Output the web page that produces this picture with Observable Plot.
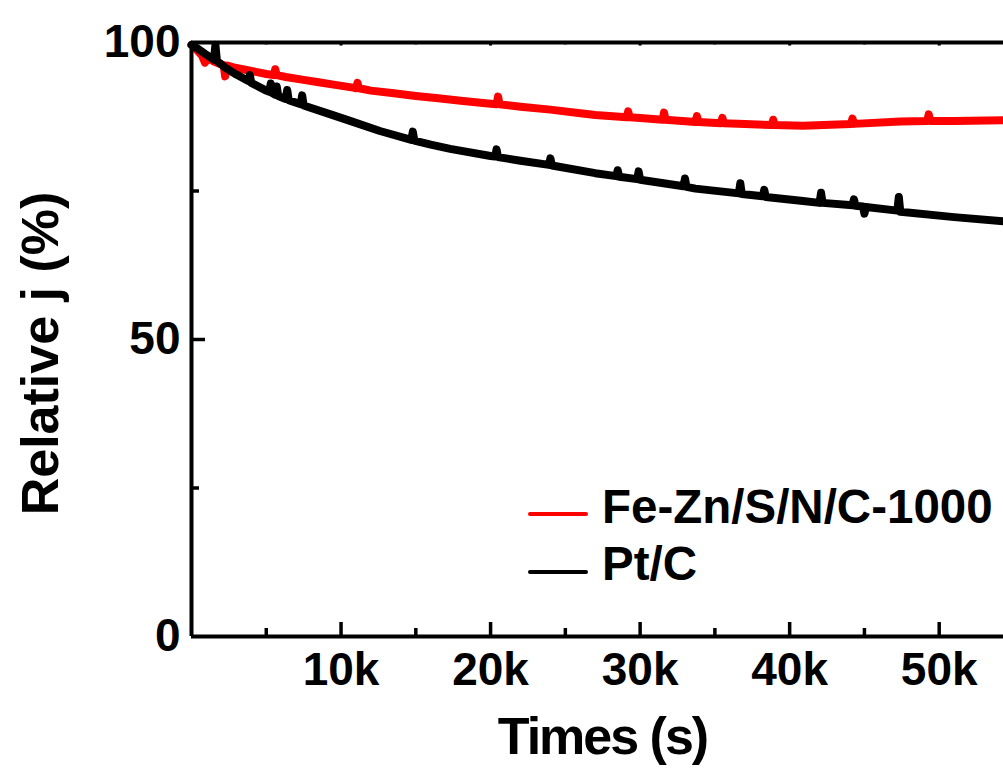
<!DOCTYPE html>
<html>
<head>
<meta charset="utf-8">
<script src="https://cdn.jsdelivr.net/npm/d3@7"></script>
<script src="https://cdn.jsdelivr.net/npm/@observablehq/plot@0.6"></script>
<style>
  html, body { margin: 0; padding: 0; background: #fff; }
  #wrap { position: relative; width: 1003px; height: 773px; overflow: hidden; font-family: "Liberation Sans", Arial, sans-serif; font-weight: bold; }
  .leg { position: absolute; font-size: 47.5px; line-height: 47.5px; color: #000; white-space: nowrap; }
  .sw { position: absolute; height: 4px; border-radius: 2px; }
</style>
</head>
<body>
<div id="wrap"></div>
<script>
// ---- data (time in s, relative current density in %) ----
const seriesNames = ["Fe-Zn/S/N/C-1000", "Pt/C"];
const seriesColors = ["#ff0000", "#000000"];

const redT = [0, 300, 700, 900, 1100, 1500, 2000, 2150, 2250, 2400, 3000, 4000, 5000, 5500, 5600, 5700, 6300, 7500, 8500, 9500, 10800, 11000, 11100, 11200, 12000, 13400, 15000, 16500, 18000, 20000, 20400, 20500, 20600, 22000, 24000, 26000, 27000, 29100, 29200, 29300, 30000, 31500, 31600, 31700, 33700, 33800, 33900, 35400, 35500, 35600, 37000, 38800, 38900, 39000, 40900, 44100, 44200, 44300, 47400, 49200, 49300, 49400, 51000, 54300];
const redV = [99.6, 98.9, 97.8, 96.6, 97.4, 96.8, 96.3, 96.2, 94.3, 96.1, 95.7, 95.2, 94.7, 94.5, 95.5, 94.5, 94.2, 93.7, 93.3, 92.9, 92.4, 92.3, 93.2, 92.3, 91.9, 91.5, 91.0, 90.6, 90.2, 89.7, 89.6, 90.9, 89.6, 89.2, 88.7, 88.1, 87.8, 87.4, 88.4, 87.4, 87.3, 87.0, 88.2, 87.0, 86.6, 87.6, 86.6, 86.4, 87.3, 86.4, 86.3, 86.1, 87.0, 86.1, 86.0, 86.3, 87.2, 86.3, 86.7, 86.8, 87.9, 86.8, 86.8, 86.9];

const blackT = [0, 400, 900, 1500, 1600, 1700, 2300, 3000, 3800, 3900, 4000, 5000, 5200, 5300, 5400, 5600, 5700, 5800, 6300, 6400, 6500, 7300, 7400, 7500, 9300, 10600, 12600, 14700, 14800, 14900, 16000, 17300, 20000, 20300, 20400, 20500, 22000, 23900, 24000, 24100, 27000, 28400, 28500, 28600, 29800, 29900, 30000, 32900, 33000, 33100, 33700, 36600, 36700, 36800, 38200, 38300, 38400, 40900, 42000, 42100, 42200, 44200, 44300, 44400, 44900, 45000, 45100, 47200, 47300, 47400, 51000, 54300];
const blackV = [99.6, 99.0, 98.1, 97.1, 99.6, 96.9, 95.7, 94.6, 93.5, 94.5, 93.2, 91.9, 91.7, 93.1, 91.5, 91.2, 92.6, 91.0, 90.5, 92.0, 90.3, 89.6, 91.1, 89.4, 87.9, 86.8, 85.1, 83.6, 85.0, 83.5, 82.8, 82.1, 80.9, 80.8, 82.0, 80.7, 80.1, 79.4, 80.5, 79.3, 78.0, 77.5, 78.5, 77.4, 77.0, 78.3, 76.9, 75.8, 77.1, 75.7, 75.4, 74.6, 76.3, 74.5, 74.1, 75.2, 74.0, 73.3, 73.0, 74.7, 73.0, 72.6, 73.6, 72.5, 72.4, 71.2, 72.3, 71.7, 74.0, 71.5, 70.6, 69.9];

const xMajorTicks = [10000, 20000, 30000, 40000, 50000];
const xMinorTicks = [5000, 15000, 25000, 35000, 45000];
const yMajorTicks = [0, 50, 100];
const yMinorTicks = [25, 75];
const xDomain = [0, 54300];
const yDomain = [0, 100];
const xLabel = "Times (s)";
const yLabel = "Relative j (%)";

const red = redT.map((t, i) => ({t, v: redV[i]}));
const black = blackT.map((t, i) => ({t, v: blackV[i]}));

const FONT = '"Liberation Sans", Arial, sans-serif';
const majorLenY = 14 / 5.94;   // tick length expressed in y units
const minorLenY = 8 / 5.94;
const majorLenX = 14 / 0.014954;
const minorLenX = 8 / 0.014954;

const chart = Plot.plot({
  width: 1003,
  height: 773,
  marginLeft: 191,
  marginRight: 0,
  marginTop: 42,
  marginBottom: 137,
  style: {fontFamily: FONT, fontWeight: "bold", fontSize: "46px", color: "#000", background: "#fff", overflow: "visible"},
  x: {domain: xDomain, ticks: xMajorTicks, tickSize: 0, tickPadding: 16, tickFormat: d => (d / 1000) + "k", label: null},
  y: {domain: yDomain, ticks: yMajorTicks, tickSize: 0, tickPadding: 11, label: null},
  marks: [
    Plot.line(red, {x: "t", y: "v", stroke: seriesColors[0], strokeWidth: 8, strokeLinejoin: "round", strokeLinecap: "round"}),
    Plot.line(black, {x: "t", y: "v", stroke: seriesColors[1], strokeWidth: 8, strokeLinejoin: "round", strokeLinecap: "round"}),
    // frame
    Plot.ruleY([yDomain[0]], {stroke: "#000", strokeWidth: 4}),
    Plot.ruleY([yDomain[1]], {stroke: "#000", strokeWidth: 4}),
    Plot.ruleX([xDomain[0]], {stroke: "#000", strokeWidth: 4}),
    // inward ticks, bottom
    Plot.ruleX(xMajorTicks, {y1: yDomain[0], y2: majorLenY, stroke: "#000", strokeWidth: 3.5}),
    Plot.ruleX(xMinorTicks, {y1: yDomain[0], y2: minorLenY, stroke: "#000", strokeWidth: 3.5}),
    // inward ticks, top
    Plot.ruleX(xMajorTicks, {y1: yDomain[1], y2: yDomain[1] - 0.6, stroke: "#000", strokeWidth: 3}),
    Plot.ruleX(xMinorTicks, {y1: yDomain[1], y2: yDomain[1] - 0.4, stroke: "#000", strokeWidth: 3}),
    // inward ticks, left
    Plot.ruleY([50], {x1: xDomain[0], x2: majorLenX, stroke: "#000", strokeWidth: 3.5}),
    Plot.ruleY(yMinorTicks, {x1: xDomain[0], x2: minorLenX, stroke: "#000", strokeWidth: 3.5}),
    // axis titles
    Plot.text([xLabel], {frameAnchor: "bottom", textAnchor: "middle", dx: 5, dy: 117, fontSize: 52, fontWeight: "bold", fill: "#000"}),
    Plot.text([yLabel], {frameAnchor: "left", textAnchor: "middle", dx: -150, dy: 14, rotate: -90, fontSize: 52, fontWeight: "bold", fill: "#000"})
  ]
});

// slightly condensed x-axis title, as in the original figure
d3.select(chart).selectAll("text").filter(function() { return this.textContent === xLabel; }).style("letter-spacing", "-2px");

const wrap = document.getElementById("wrap");
wrap.appendChild(chart);

// legend (inside plot area, lower right)
const legendPos = [{lineTop: 512, textTop: 483}, {lineTop: 570, textTop: 540}];
seriesNames.forEach((name, i) => {
  const sw = document.createElement("div");
  sw.className = "sw";
  sw.style.left = "528px";
  sw.style.width = "60px";
  sw.style.top = legendPos[i].lineTop + "px";
  sw.style.background = seriesColors[i];
  wrap.appendChild(sw);
  const tx = document.createElement("div");
  tx.className = "leg";
  tx.style.left = "602px";
  tx.style.top = legendPos[i].textTop + "px";
  tx.textContent = name;
  wrap.appendChild(tx);
});
</script>
</body>
</html>
